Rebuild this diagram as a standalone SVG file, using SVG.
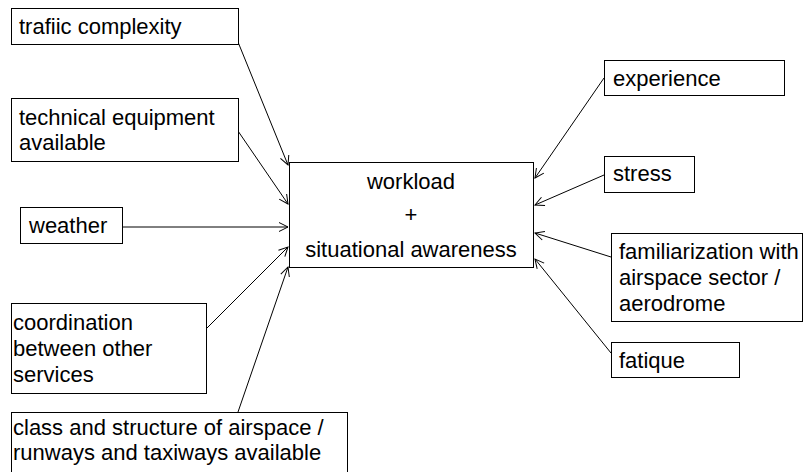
<svg xmlns="http://www.w3.org/2000/svg" width="803" height="472" viewBox="0 0 803 472">
<defs>
<style>
rect.box{fill:#fff;stroke:#000;stroke-width:1}
text{font-family:"Liberation Sans",Arial,sans-serif;font-size:22px;fill:#000}
line.c{stroke:#000;stroke-width:1;marker-end:url(#ah)}
</style>
<marker id="ah" markerUnits="userSpaceOnUse" markerWidth="12" markerHeight="12" refX="10" refY="6" orient="auto" viewBox="0 0 12 12">
<path d="M1,1.5 L10,6 L1,10.5" fill="none" stroke="#000" stroke-width="1"/>
</marker>
</defs>
<rect width="803" height="472" fill="#fff"/>
<g id="connectors">
<line class="c" x1="238" y1="42" x2="288" y2="165"/>
<line class="c" x1="238" y1="131" x2="288" y2="204"/>
<line class="c" x1="122" y1="227" x2="288" y2="227"/>
<line class="c" x1="206" y1="329" x2="288" y2="247"/>
<line class="c" x1="238" y1="412" x2="288" y2="267"/>
<line class="c" x1="604" y1="78" x2="535" y2="178"/>
<line class="c" x1="604" y1="175" x2="535" y2="205"/>
<line class="c" x1="611" y1="257" x2="535" y2="233"/>
<line class="c" x1="611" y1="353" x2="535" y2="259"/>
</g>
<g id="center">
<rect class="box" x="289.5" y="162.5" width="244" height="105"/>
<text x="411" y="189" text-anchor="middle">workload</text>
<text x="411" y="222" text-anchor="middle">+</text>
<text x="411" y="257" text-anchor="middle">situational awareness</text>
</g>
<g id="traffic">
<rect class="box" x="11.5" y="8.5" width="227" height="36"/>
<text x="19" y="34">trafiic complexity</text>
</g>
<g id="technical">
<rect class="box" x="11.5" y="98.5" width="227" height="63"/>
<text x="19" y="125">technical equipment</text>
<text x="19" y="150">available</text>
</g>
<g id="weather">
<rect class="box" x="20.5" y="207.5" width="102" height="36"/>
<text x="29" y="233">weather</text>
</g>
<g id="coordination">
<rect class="box" x="11.5" y="303.5" width="195" height="90"/>
<text x="13" y="330">coordination</text>
<text x="13" y="356">between other</text>
<text x="13" y="382">services</text>
</g>
<g id="class">
<rect class="box" x="11.5" y="412.5" width="336" height="62"/>
<text x="13" y="435">class and structure of airspace /</text>
<text x="13" y="460">runways and taxiways available</text>
</g>
<g id="experience">
<rect class="box" x="604.5" y="60.5" width="180" height="35"/>
<text x="613" y="86">experience</text>
</g>
<g id="stress">
<rect class="box" x="604.5" y="156.5" width="90" height="36"/>
<text x="613" y="181">stress</text>
</g>
<g id="familiarization">
<rect class="box" x="611.5" y="233.5" width="191" height="88"/>
<text x="619" y="259">familiarization with</text>
<text x="619" y="285">airspace sector /</text>
<text x="619" y="311">aerodrome</text>
</g>
<g id="fatique">
<rect class="box" x="611.5" y="342.5" width="128" height="35"/>
<text x="619" y="368">fatique</text>
</g>
</svg>
